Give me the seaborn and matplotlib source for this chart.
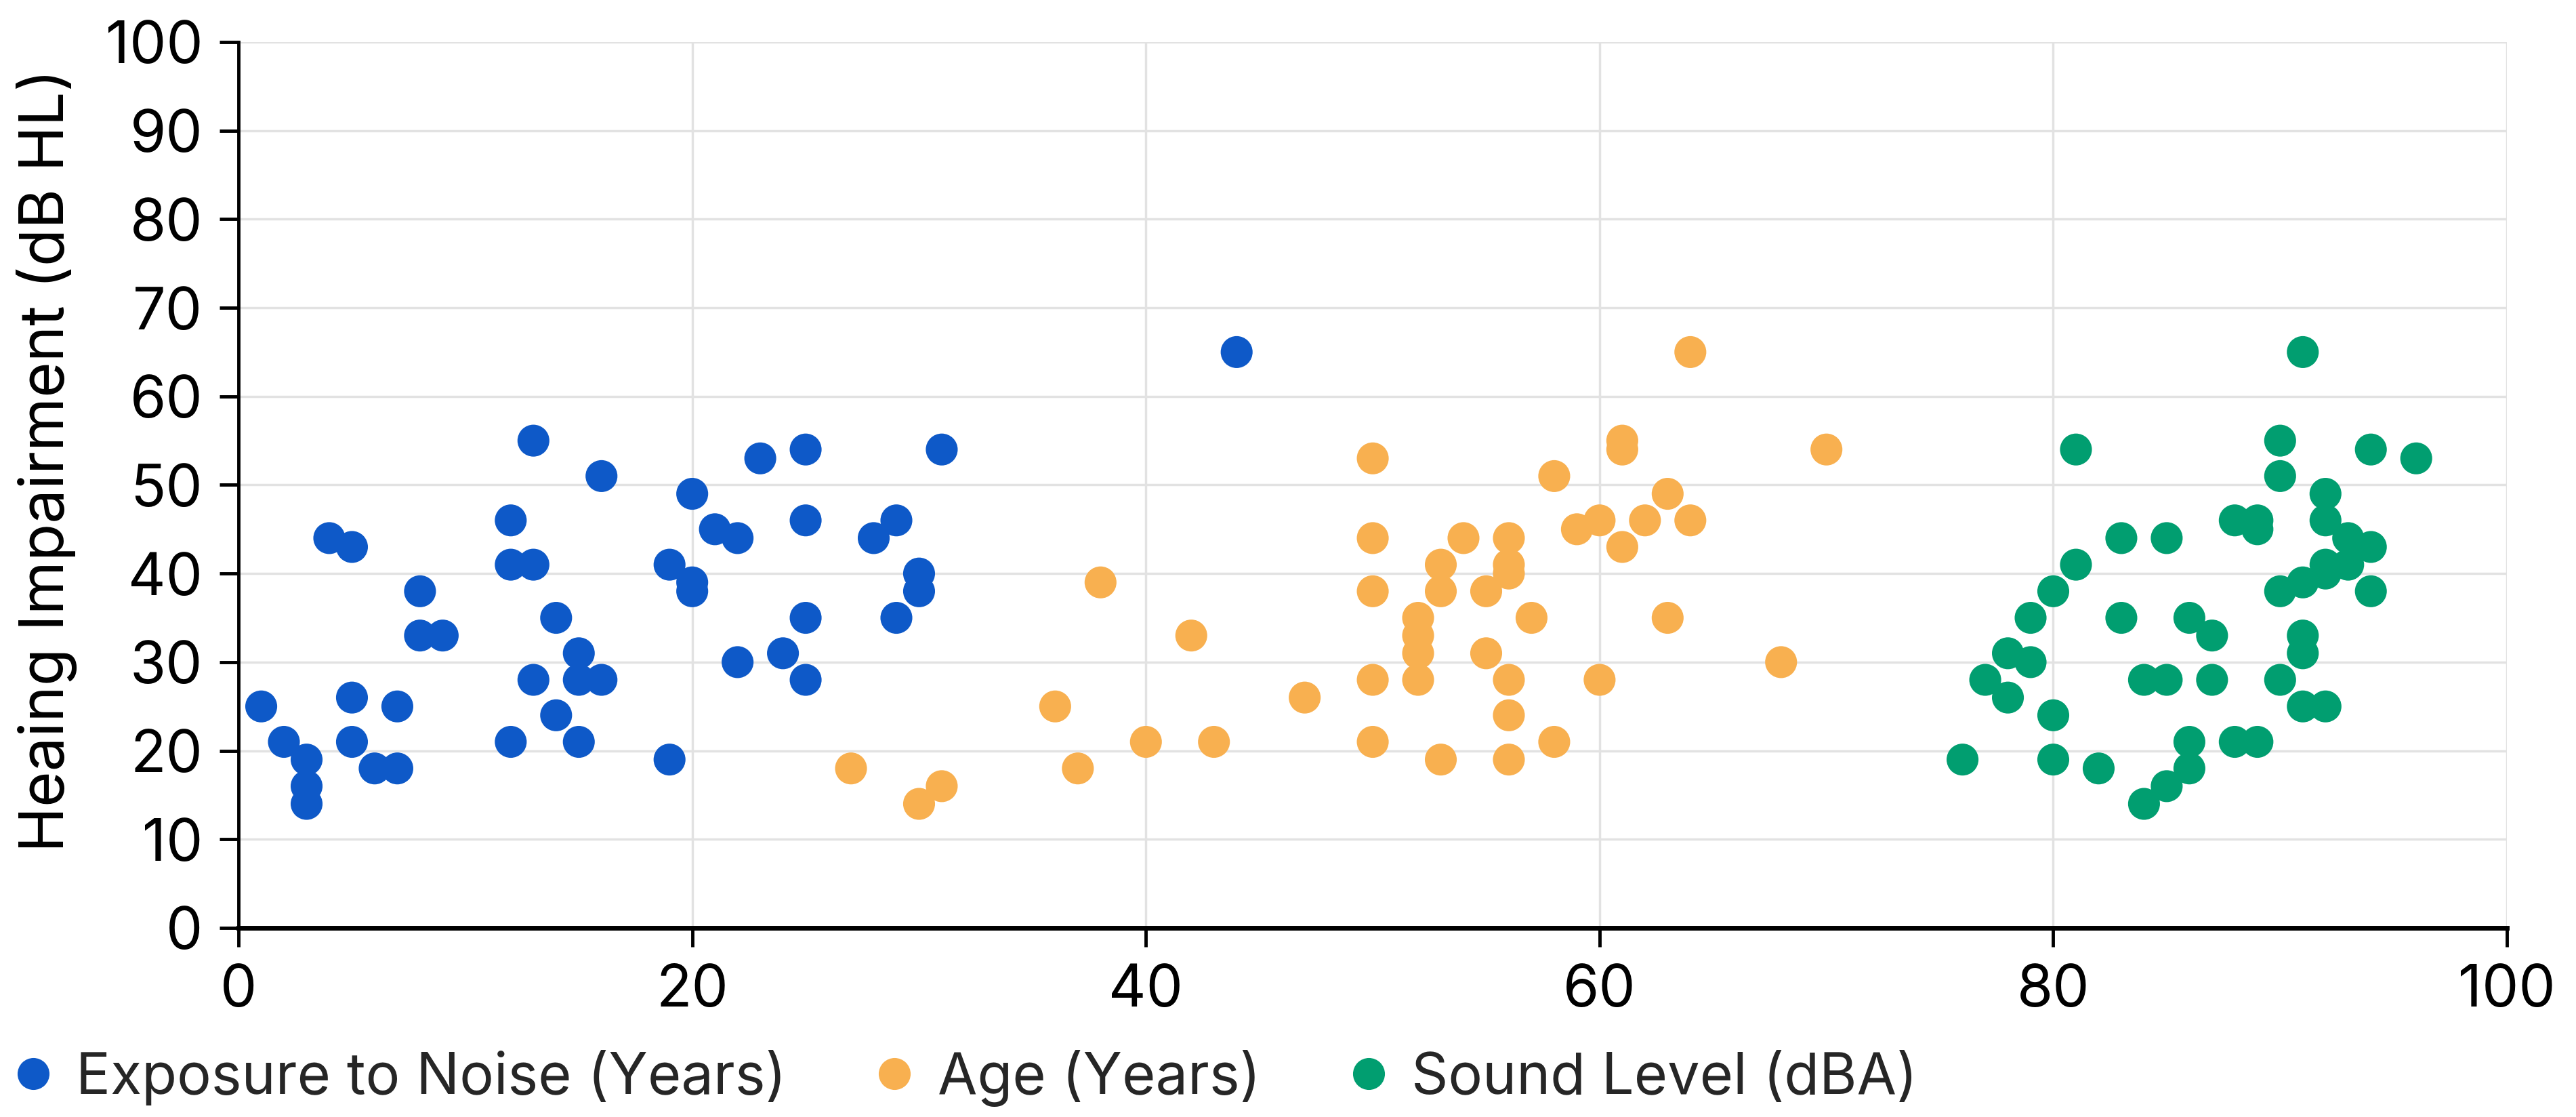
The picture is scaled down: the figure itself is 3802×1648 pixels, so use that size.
import matplotlib
matplotlib.use('Agg')
import matplotlib.pyplot as plt
import pandas as pd
import seaborn as sns

# Data
noise_x = [1, 2, 3, 3, 3, 4, 5, 5, 5, 6, 7, 7, 8, 8, 9,
           12, 12, 12, 13, 13, 13, 14, 14, 15, 15, 15, 16, 16,
           19, 19, 20, 20, 20, 21, 22, 22, 23, 24, 25, 25, 25, 25,
           28, 29, 29, 30, 30, 31, 44]
noise_y = [25, 21, 19, 16, 14, 44, 43, 26, 21, 18, 18, 25, 38, 33, 33,
           46, 41, 21, 55, 41, 28, 35, 24, 31, 28, 21, 51, 28,
           41, 19, 49, 39, 38, 45, 44, 30, 53, 31, 54, 46, 35, 28,
           44, 46, 35, 40, 38, 54, 65]

age_x = [27, 30, 31, 36, 37, 38, 40, 42, 43, 47,
         50, 50, 50, 50, 50, 52, 52, 52, 52, 53, 53, 53, 54, 55, 55,
         56, 56, 56, 56, 56, 56, 57, 58, 58, 59, 60, 60, 61, 61, 61,
         62, 63, 63, 64, 64, 68, 70]
age_y = [18, 14, 16, 25, 18, 39, 21, 33, 21, 26,
         53, 44, 38, 28, 21, 35, 33, 31, 28, 41, 38, 19, 44, 38, 31,
         44, 41, 40, 28, 24, 19, 35, 51, 21, 45, 46, 28, 55, 54, 43,
         46, 49, 35, 65, 46, 30, 54]

sound_x = [76, 77, 78, 78, 79, 79, 80, 80, 80, 81, 81, 82,
           83, 83, 84, 84, 85, 85, 85, 86, 86, 86, 87, 87,
           88, 88, 89, 89, 89, 90, 90, 90, 90,
           91, 91, 91, 91, 91, 92, 92, 92, 92, 92, 93, 93, 94, 94, 94, 96]
sound_y = [19, 28, 31, 26, 35, 30, 38, 24, 19, 54, 41, 18,
           44, 35, 28, 14, 44, 28, 16, 35, 21, 18, 33, 28,
           46, 21, 46, 45, 21, 55, 51, 38, 28,
           65, 39, 33, 31, 25, 49, 46, 41, 40, 25, 44, 41, 54, 43, 38, 53]

series_names = ['Exposure to Noise (Years)', 'Age (Years)', 'Sound Level (dBA)']
colors = ['#0E59C8', '#F8B050', '#019E70']

df = pd.concat([
    pd.DataFrame({'x': noise_x, 'y': noise_y, 'series': series_names[0]}),
    pd.DataFrame({'x': age_x, 'y': age_y, 'series': series_names[1]}),
    pd.DataFrame({'x': sound_x, 'y': sound_y, 'series': series_names[2]}),
])

sns.set_style('white')
plt.rcParams['font.family'] = ['Inter', 'DejaVu Sans']

fig = plt.figure(figsize=(38.02, 16.48), dpi=100)
ax = fig.add_axes([0.0926, 0.1693, 0.8806, 0.7931])

sns.scatterplot(data=df, x='x', y='y', hue='series', hue_order=series_names,
                palette=colors, s=1150, linewidth=0, alpha=1, ax=ax, zorder=3)

ax.set_xlim(0, 100)
ax.set_ylim(0, 100)
ax.set_xticks(range(0, 101, 20))
ax.set_yticks(range(0, 101, 10))
ax.grid(True, color='#E2E2E2', linewidth=2.5)
ax.set_axisbelow(True)

for side in ['top', 'right']:
    ax.spines[side].set_visible(False)
ax.spines['left'].set_linewidth(3.5)
ax.spines['bottom'].set_linewidth(5)
ax.spines['left'].set_color('black')
ax.spines['bottom'].set_color('black')
ax.tick_params(axis='both', direction='out', length=20, width=3.5,
               color='black', labelsize=62, pad=18, labelcolor='black')
ax.tick_params(axis='y', left=True)
ax.tick_params(axis='x', bottom=True)

ax.set_xlabel('')
ax.set_ylabel('Heaing Impairment (dB HL)', fontsize=65, color='black')
ax.yaxis.set_label_coords(-0.071, 0.528)

sns.move_legend(ax, loc='center left', bbox_to_anchor=(0.0066, 0.0346),
                bbox_transform=fig.transFigure, ncol=3, frameon=False,
                title=None, fontsize=61, handlelength=0.56,
                handletextpad=0.47, columnspacing=1.6,
                borderpad=0, borderaxespad=0)

fig.savefig('out.png', dpi=100)
